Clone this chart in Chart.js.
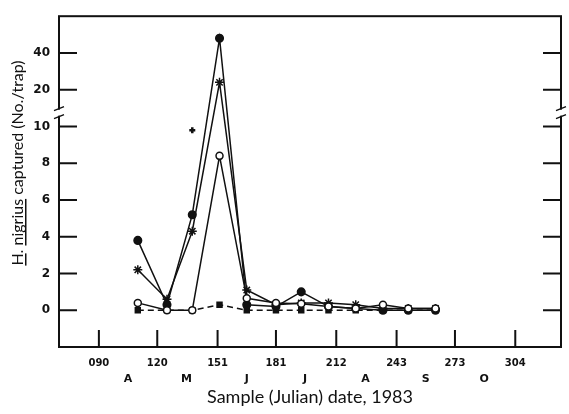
<!DOCTYPE html>
<html>
<head>
<meta charset="utf-8">
<script src="https://cdn.jsdelivr.net/npm/chart.js@4.4.1/dist/chart.umd.min.js"></script>
<style>
  html, body { margin: 0; padding: 0; background: #fff; }
  #wrap { width: 569px; height: 414px; }
</style>
</head>
<body>
<div id="wrap"><canvas id="chart"></canvas></div>
<script>
// Sample dates (Julian day) and H. nigrius caught per trap
const sampleDays = [110, 125, 138, 152, 166, 181, 194, 208, 222, 236, 249, 263];
const filledCircles = [3.8, 0.3, 5.2, 48, 0.3, 0.2, 1.0, 0.2, 0.1, 0, 0, 0];
const stars = [2.2, 0.6, 4.3, 24, 1.1, 0.3, 0.4, 0.4, 0.3, 0.1, 0.1, 0.1];
const openCircles = [0.4, 0, 0, 8.4, 0.65, 0.4, 0.35, 0.2, 0.1, 0.3, 0.1, 0.1];
const filledSquares = [0, 0, 0, 0.3, 0, 0, 0, 0, 0, 0, 0, 0];
const strayDays = [138];
const strayValues = [9.8];

// Axis ticks
const dayTicks = [90, 120, 151, 181, 212, 243, 273, 304];
const dayLabels = ['090', '120', '151', '181', '212', '243', '273', '304'];
const monthDays = [105, 135, 166, 196, 227, 258, 288];
const monthLabels = ['A', 'M', 'J', 'J', 'A', 'S', 'O'];
const yTickValues = [0, 2, 4, 6, 8, 10, 20, 40];

// broken y axis: 0-10 linear, then 20 and 40 squeezed above the break
function scaled(v) { return v <= 10 ? v : 12 + (v - 20) / 10; }

const pts = (xs, ys) => xs.map((d, i) => ({ x: d, y: scaled(ys[i]) }));

const INK = '#111';

const framePlugin = {
  id: 'frame',
  afterDraw(chart) {
    const { ctx, chartArea: a, scales } = chart;
    const y = scales.y, x = scales.x;
    ctx.save();
    ctx.strokeStyle = INK;
    ctx.lineWidth = 2;
    ctx.strokeRect(a.left, a.top, a.right - a.left, a.bottom - a.top);

    // inward tick marks
    ctx.beginPath();
    yTickValues.forEach(v => {
      const py = y.getPixelForValue(scaled(v));
      ctx.moveTo(a.left, py); ctx.lineTo(a.left + 18, py);
      ctx.moveTo(a.right, py); ctx.lineTo(a.right - 18, py);
    });
    dayTicks.forEach(d => {
      const px = x.getPixelForValue(d);
      ctx.moveTo(px, a.bottom); ctx.lineTo(px, a.bottom - 17);
    });
    ctx.stroke();

    // axis break marks
    const by = y.getPixelForValue(10.75);
    [a.left, a.right].forEach(px => {
      ctx.fillStyle = '#fff';
      ctx.fillRect(px - 2, by - 3, 4, 6);
      ctx.beginPath();
      ctx.lineWidth = 1.4;
      ctx.moveTo(px - 5, by - 2); ctx.lineTo(px + 5, by - 6);
      ctx.moveTo(px - 5, by + 6); ctx.lineTo(px + 5, by + 2);
      ctx.stroke();
    });
    ctx.restore();

    // y title with underlined species name
    ctx.save();
    ctx.translate(23, 163);
    ctx.rotate(-Math.PI / 2);
    ctx.font = '16px Lato';
    ctx.fillStyle = INK;
    ctx.textBaseline = 'alphabetic';
    const parts = ['H.', ' ', 'nigrius', ' captured (No./trap)'];
    const total = ctx.measureText(parts.join('')).width;
    let cx = -total / 2;
    parts.forEach((p, i) => {
      const w = ctx.measureText(p).width;
      ctx.fillText(p, cx, 0);
      if (i === 0) ctx.fillRect(cx, 2, ctx.measureText('H').width, 1.5);
      if (i === 2) ctx.fillRect(cx, 2, w, 1.5);
      cx += w;
    });
    ctx.restore();
  }
};

new Chart(document.getElementById('chart'), {
  type: 'line',
  data: {
    datasets: [
      { data: pts(sampleDays, openCircles), borderColor: INK, borderWidth: 1.5,
        pointStyle: 'circle', pointRadius: 3.5, pointBackgroundColor: '#fff', pointBorderColor: INK, pointBorderWidth: 1.5 },
      { data: pts(sampleDays, filledCircles), borderColor: INK, borderWidth: 1.5,
        pointStyle: 'circle', pointRadius: 3.8, pointBackgroundColor: INK, pointBorderColor: INK },
      { data: pts(sampleDays, stars), borderColor: INK, borderWidth: 1.5,
        pointStyle: 'star', pointRadius: 4.5, pointBackgroundColor: INK, pointBorderColor: INK, pointBorderWidth: 1.5 },
      { data: pts(sampleDays, filledSquares), borderColor: INK, borderWidth: 1.5, borderDash: [6, 4],
        pointStyle: 'rect', pointRadius: 3.5, pointBackgroundColor: INK, pointBorderColor: INK },
      { data: pts(strayDays, strayValues), showLine: false,
        pointStyle: 'crossRot', rotation: 45, pointRadius: 3, pointBorderColor: INK, pointBorderWidth: 2.5 }
    ]
  },
  options: {
    responsive: true,
    maintainAspectRatio: false,
    animation: false,
    layout: { padding: { top: 4, right: 8, left: 0, bottom: 0 } },
    plugins: { legend: { display: false }, tooltip: { enabled: false } },
    elements: { line: { tension: 0 } },
    scales: {
      x: {
        type: 'linear', position: 'bottom', min: 69.5, max: 327.5, weight: 0,
        grid: { display: false, drawTicks: false }, border: { display: false },
        afterBuildTicks: s => { s.ticks = dayTicks.map(v => ({ value: v })); },
        afterFit: s => { s.height = 22; },
        ticks: {
          padding: 10, color: INK, maxRotation: 0, autoSkip: false,
          font: { family: 'DejaVu Sans', size: 10, weight: 'bold' },
          callback: (v, i) => dayLabels[i]
        }
      },
      xm: {
        type: 'linear', position: 'bottom', min: 69.5, max: 327.5, weight: 1,
        grid: { display: false, drawTicks: false }, border: { display: false },
        afterBuildTicks: s => { s.ticks = monthDays.map(v => ({ value: v })); },
        afterFit: s => { s.height = 45; },
        ticks: {
          padding: 4, color: INK, maxRotation: 0, autoSkip: false,
          font: { family: 'DejaVu Sans', size: 11, weight: 'bold' },
          callback: (v, i) => monthLabels[i]
        },
        title: {
          display: true, text: 'Sample (Julian) date, 1983', color: INK,
          font: { family: 'Lato', size: 18 }, padding: { top: 0, bottom: 6 }
        }
      },
      y: {
        type: 'linear', min: -2, max: 16,
        grid: { display: false, drawTicks: false }, border: { display: false },
        afterBuildTicks: s => { s.ticks = yTickValues.map(v => ({ value: scaled(v) })); },
        afterFit: s => { s.width = 59; },
        ticks: {
          padding: 9, color: INK, autoSkip: false,
          font: { family: 'DejaVu Sans', size: 12, weight: 'bold' },
          callback: (v, i) => String(yTickValues[i])
        }
      }
    }
  },
  plugins: [framePlugin]
});
</script>
</body>
</html>
